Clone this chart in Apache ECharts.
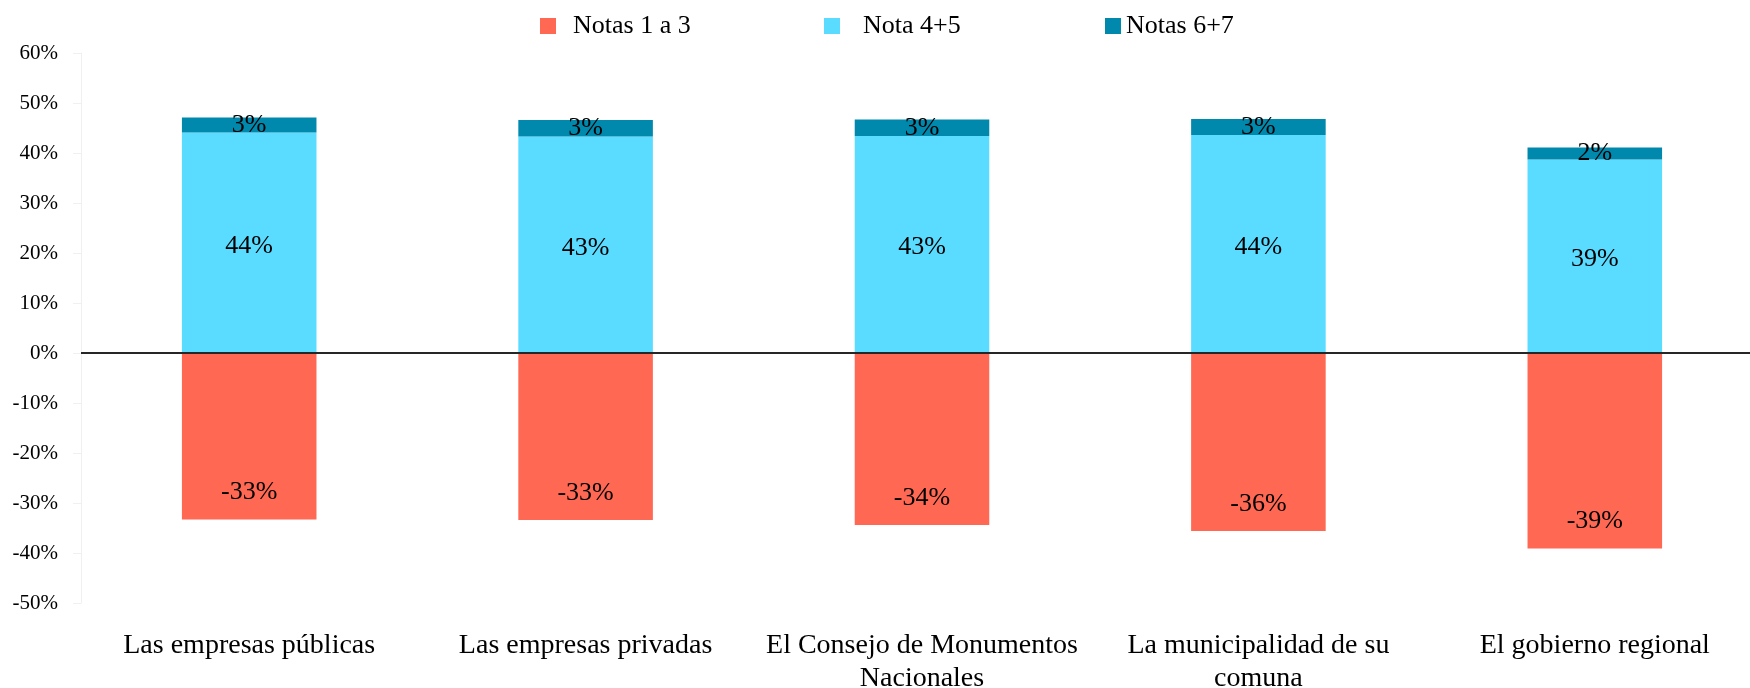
<!DOCTYPE html>
<html>
<head>
<meta charset="utf-8">
<script src="https://cdn.jsdelivr.net/npm/echarts@6/dist/echarts.min.js"></script>
<style>
  html, body { margin: 0; padding: 0; background: #fff; }
  #chart { width: 1750px; height: 688px; }
</style>
</head>
<body>
<div id="chart"></div>
<script>
// categories and values (percent)
var categories = [
  'Las empresas públicas',
  'Las empresas privadas',
  'El Consejo de Monumentos\nNacionales',
  'La municipalidad de su\ncomuna',
  'El gobierno regional'
];
var notas1a3 = [-33.3, -33.4, -34.4, -35.6, -39.1];
var nota4y5 = [44.1, 43.3, 43.4, 43.6, 38.7];
var notas6y7 = [3.0, 3.3, 3.3, 3.2, 2.4];
var yTicks = { min: -50, max: 60, interval: 10 };

var FONT = '"Liberation Serif", "DejaVu Serif", serif';
var colors = ['#FF6852', '#59DCFF', '#0089AD'];

function pct (p) {
  return Math.round(p.value) + '%';
}

var labelBase = {
  show: true,
  color: '#000',
  fontFamily: FONT,
  fontSize: 26,
  textBorderWidth: 0,
  formatter: pct
};

var dom = echarts.init(document.getElementById('chart'));
var option = {
  animation: false,
  color: colors,
  legend: [
    {
      left: 535, top: 8, itemWidth: 16, itemHeight: 16, icon: 'rect',
      data: ['Notas 1 a 3'],
      textStyle: { fontFamily: FONT, fontSize: 26, color: '#000', padding: [0, 0, 0, 12] }
    },
    {
      left: 819, top: 8, itemWidth: 16, itemHeight: 16, icon: 'rect',
      data: ['Nota 4+5'],
      textStyle: { fontFamily: FONT, fontSize: 26, color: '#000', padding: [0, 0, 0, 18] }
    },
    {
      left: 1100, top: 8, itemWidth: 16, itemHeight: 16, icon: 'rect',
      data: ['Notas 6+7'],
      textStyle: { fontFamily: FONT, fontSize: 26, color: '#000' }
    }
  ],
  grid: {
    left: 81,
    right: -13,
    top: 53,
    bottom: 85,
    containLabel: false,
    outerBoundsMode: 'none'
  },
  xAxis: {
    type: 'category',
    data: categories,
    axisLine: { show: false, onZero: false },
    axisTick: { show: false },
    axisLabel: {
      color: '#000',
      fontFamily: FONT,
      fontSize: 28,
      margin: 26,
      lineHeight: 33,
      interval: 0
    }
  },
  yAxis: {
    type: 'value',
    min: yTicks.min,
    max: yTicks.max,
    interval: yTicks.interval,
    axisLine: { show: true, lineStyle: { color: '#f0f0f0', width: 1 } },
    axisTick: { show: true, length: 8, lineStyle: { color: '#f0f0f0' } },
    splitLine: { show: false },
    axisLabel: {
      color: '#000',
      fontFamily: FONT,
      fontSize: 21,
      margin: 23,
      formatter: '{value}%'
    }
  },
  series: [
    {
      name: 'Notas 1 a 3',
      type: 'bar',
      stack: 'total',
      barWidth: '40%',
      data: notas1a3,
      label: Object.assign({}, labelBase, { position: 'insideBottom', distance: 14 }),
      markLine: {
        silent: true,
        symbol: 'none',
        label: { show: false },
        lineStyle: { color: '#262626', width: 2, type: 'solid' },
        data: [{ yAxis: 0 }]
      }
    },
    {
      name: 'Nota 4+5',
      type: 'bar',
      stack: 'total',
      barWidth: '40%',
      data: nota4y5,
      label: Object.assign({}, labelBase, { position: 'inside', offset: [0, 3] })
    },
    {
      name: 'Notas 6+7',
      type: 'bar',
      stack: 'total',
      barWidth: '40%',
      data: notas6y7,
      label: Object.assign({}, labelBase, { position: 'inside' })
    }
  ]
};
dom.setOption(option);
window.addEventListener('resize', function () { dom.resize(); });
</script>
</body>
</html>
